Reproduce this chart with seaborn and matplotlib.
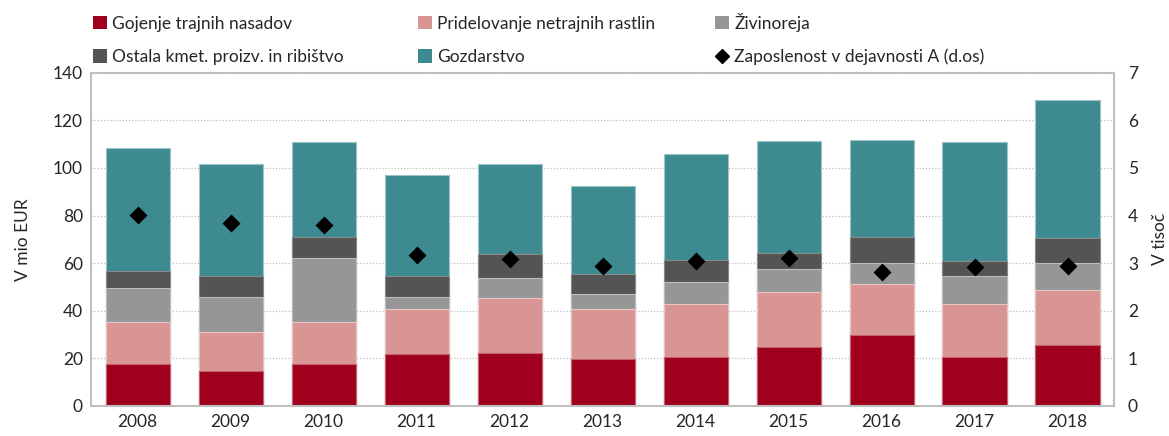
import numpy as np
import pandas as pd
import seaborn as sns
import matplotlib.pyplot as plt
from matplotlib.patches import Patch
from matplotlib.lines import Line2D

years = ['2008', '2009', '2010', '2011', '2012', '2013', '2014', '2015', '2016', '2017', '2018']
trajni = [17.5, 14.6, 17.5, 21.9, 22.4, 19.9, 20.7, 24.9, 29.8, 20.7, 25.5]
netrajni = [17.8, 16.4, 17.8, 19.0, 22.9, 21.0, 22.0, 22.9, 21.6, 22.0, 23.4]
zivinoreja = [14.3, 14.8, 26.9, 4.9, 8.5, 6.2, 9.4, 9.8, 8.6, 11.8, 11.2]
ostala = [7.1, 9.0, 8.7, 9.0, 10.0, 8.5, 9.4, 6.6, 10.9, 6.6, 10.6]
gozdarstvo = [51.6, 46.8, 39.9, 42.4, 37.8, 36.7, 44.3, 47.1, 41.0, 49.7, 57.8]
zaposlenost = [4.02, 3.84, 3.81, 3.17, 3.08, 2.95, 3.04, 3.10, 2.82, 2.92, 2.95]

names = ['Gojenje trajnih nasadov', 'Pridelovanje netrajnih rastlin', 'Živinoreja',
         'Ostala kmet. proizv. in ribištvo', 'Gozdarstvo']
colors = ['#A0001E', '#D99594', '#969696', '#545454', '#3E8A91']
edges = ['#C46070', '#EBC4C4', '#BDBDBD', '#8A8A8A', '#9CC4C8']

df = pd.DataFrame({'leto': years, names[0]: trajni, names[1]: netrajni,
                   names[2]: zivinoreja, names[3]: ostala, names[4]: gozdarstvo})
cum = df[names].cumsum(axis=1)

sns.set_style('white')
plt.rcParams['font.family'] = ['Lato', 'DejaVu Sans']

fig = plt.figure(figsize=(11.69, 4.36), dpi=100)
ax = fig.add_axes([0.078, 0.069, 0.875, 0.764])

# stacked bars: draw cumulative totals from the top segment down
for i in range(len(names) - 1, -1, -1):
    sns.barplot(x=df['leto'], y=cum[names[i]], color=colors[i], width=0.69,
                edgecolor=edges[i], linewidth=0.8, saturation=1, ax=ax, zorder=2)

ax.set_xlim(-0.5, 10.5)
ax.set_ylim(0, 140)
ax.set_yticks(range(0, 141, 20))
ax.yaxis.grid(True, linestyle=(0, (1, 1.5)), color='#BFBFBF', linewidth=0.9, zorder=0)
ax.set_axisbelow(True)
ax.set_xlabel('')
ax.set_ylabel('V mio EUR', fontsize=12.5, labelpad=16)
ax.tick_params(axis='both', labelsize=12.5, length=0, pad=6)
for s in ax.spines.values():
    s.set_color('#BFBFBF')
    s.set_linewidth(1.5)

ax2 = ax.twinx()
sns.pointplot(x=years, y=zaposlenost, linestyle='none', markers='D', color='black',
              markersize=7.5, ax=ax2, zorder=5)
ax2.set_xlim(-0.5, 10.5)
ax2.set_ylim(0, 7)
ax2.set_yticks(range(0, 8))
ax2.set_ylabel('V tisoč', fontsize=12.5, labelpad=10)
ax2.tick_params(axis='y', labelsize=12.5, length=0, pad=10)
for s in ax2.spines.values():
    s.set_visible(False)

# legend: three columns of two rows each
handles = [Patch(facecolor=c, edgecolor='none') for c in colors]
handles.append(Line2D([], [], marker='D', color='black', linestyle='none', markersize=7))
labels = names + ['Zaposlenost v dejavnosti A (d.os)']
columns = [[0, 3], [1, 4], [2, 5]]
col_x = [0.066, 0.3445, 0.5985]
col_y = [1.0, 1.0, 1.007]
for cols, x, y in zip(columns, col_x, col_y):
    fig.legend([handles[k] for k in cols], [labels[k] for k in cols], ncol=1,
               loc='upper left', bbox_to_anchor=(x, y), frameon=False,
               fontsize=12.5, handlelength=0.8, handleheight=0.8, handletextpad=0.3,
               labelspacing=1.0)

fig.savefig('out.png', dpi=100)
